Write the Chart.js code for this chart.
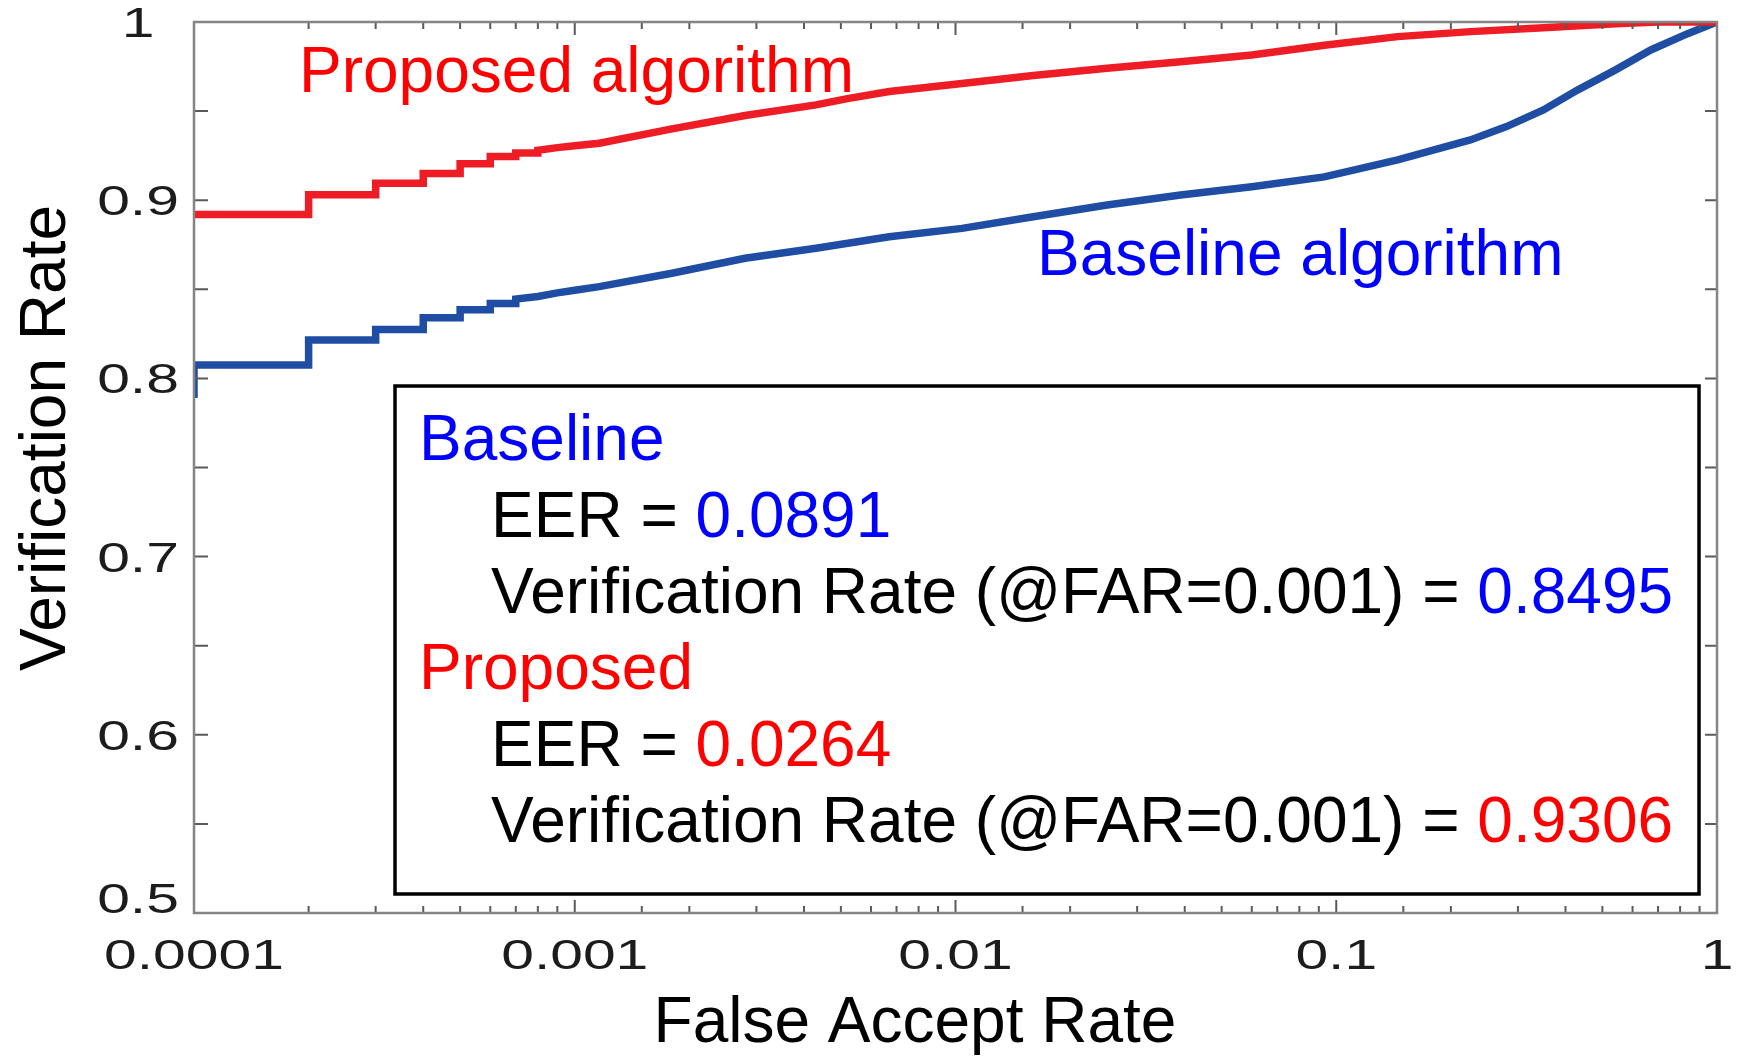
<!DOCTYPE html>
<html>
<head>
<meta charset="utf-8">
<title>ROC - Verification Rate vs False Accept Rate</title>
<script src="https://cdn.jsdelivr.net/npm/chart.js@4/dist/chart.umd.min.js"></script>
<style>
    html, body { margin: 0; padding: 0; background: #ffffff; }
    #wrap { width: 1738px; height: 1056px; }
</style>
</head>
<body>
<div id="wrap"><canvas id="rocChart" width="1738" height="1056"></canvas></div>
<script>
// ROC curve samples (FAR on a log axis, verification rate on a linear one)
const proposedFar = [1e-4, 2e-4, 2e-4, 3e-4, 3e-4, 4e-4, 4e-4, 5e-4, 5e-4, 6e-4, 6e-4, 7e-4, 7e-4, 8e-4, 8e-4, 9e-4,
    1e-3, 1.16e-3, 1.8e-3, 2.8e-3, 4.3e-3, 5.2e-3, 6.7e-3, 0.0104, 0.016, 0.025, 0.039, 0.06, 0.093, 0.145, 0.225,
    0.35, 0.54, 0.7, 1];
const proposedRate = [0.892, 0.892, 0.903, 0.903, 0.9095, 0.9095, 0.915, 0.915, 0.9205, 0.9205, 0.9245, 0.9245, 0.9265, 0.9265, 0.928, 0.9295,
    0.9306, 0.932, 0.940, 0.9475, 0.9535, 0.957, 0.961, 0.9655, 0.970, 0.974, 0.9777, 0.9815, 0.987, 0.9918, 0.9946,
    0.9968, 0.999, 1, 1];

const baselineFar = [1e-4, 1e-4, 2e-4, 2e-4, 3e-4, 3e-4, 4e-4, 4e-4, 5e-4, 5e-4, 6e-4, 6e-4, 7e-4, 7e-4, 8e-4, 9e-4,
    1e-3, 1.16e-3, 1.8e-3, 2.8e-3, 4.3e-3, 6.7e-3, 0.0104, 0.016, 0.025, 0.039, 0.06, 0.093, 0.145, 0.225,
    0.28, 0.35, 0.43, 0.54, 0.67, 0.84, 1];
const baselineRate = [0.789, 0.8075, 0.8075, 0.8215, 0.8215, 0.8275, 0.8275, 0.834, 0.834, 0.8385, 0.8385, 0.842, 0.842, 0.8445, 0.846, 0.848,
    0.8495, 0.8515, 0.859, 0.8674, 0.873, 0.8795, 0.8842, 0.8907, 0.8973, 0.9029, 0.9076, 0.9131, 0.9226, 0.9338,
    0.9413, 0.9506, 0.9618, 0.973, 0.9843, 0.9936, 1];

// Axis tick labels
const xTickValues = [1e-4, 1e-3, 1e-2, 1e-1, 1];
const xTickLabels = ['0.0001', '0.001', '0.01', '0.1', '1'];
const yTickValues = [0.5, 0.6, 0.7, 0.8, 0.9, 1];
const yTickLabels = ['0.5', '0.6', '0.7', '0.8', '0.9', '1'];

// Summary numbers shown in the boxed note
const methodNames = ['Baseline', 'Proposed'];
const eerValues = ['0.0891', '0.0264'];
const vrAtFar001 = ['0.8495', '0.9306'];

const RED = '#ff0000';
const BLUE = '#0000ff';
const TEXT_FONT = '"Liberation Sans", Arial, Helvetica, sans-serif';

function toPoints(xs, ys) {
    return xs.map((x, i) => ({ x: x, y: ys[i] }));
}

// tick labels come out wide in this figure, so draw them stretched
function wideText(ctx, text, x, y) {
    ctx.save();
    ctx.translate(x, y);
    ctx.scale(1.4, 1);
    ctx.textAlign = 'center';
    ctx.fillText(text, 0, 0);
    ctx.restore();
}

// Frame, inward ticks, tick labels, axis titles and the text annotations
const rocDecor = {
    id: 'rocDecor',
    afterDatasetsDraw(chart) {
        const ctx = chart.ctx;
        const area = chart.chartArea;
        const xs = chart.scales.x;
        const ys = chart.scales.y;

        ctx.save();

        // tick marks
        ctx.strokeStyle = '#5a5a5a';
        ctx.lineWidth = 2;
        ctx.beginPath();
        xs.ticks.forEach(t => {
            const px = xs.getPixelForValue(t.value);
            const m = t.value / Math.pow(10, Math.round(Math.log10(t.value)));
            const len = Math.abs(m - 1) < 1e-6 ? 13 : 7;
            ctx.moveTo(px, area.bottom);
            ctx.lineTo(px, area.bottom - len);
            ctx.moveTo(px, area.top);
            ctx.lineTo(px, area.top + len);
        });
        ys.ticks.forEach(t => {
            const py = ys.getPixelForValue(t.value);
            ctx.moveTo(area.left, py);
            ctx.lineTo(area.left + 14, py);
            ctx.moveTo(area.right, py);
            ctx.lineTo(area.right - 12, py);
        });
        ctx.stroke();

        // plot frame
        ctx.strokeStyle = '#858585';
        ctx.lineWidth = 2.5;
        ctx.strokeRect(area.left, area.top, area.right - area.left, area.bottom - area.top);

        // tick labels (the lowest y label sits on the x axis line)
        ctx.fillStyle = '#1c1c1c';
        ctx.font = '42px ' + TEXT_FONT;
        ctx.textBaseline = 'alphabetic';
        xTickValues.forEach((v, i) => {
            wideText(ctx, xTickLabels[i], xs.getPixelForValue(v), 969);
        });
        yTickValues.forEach((v, i) => {
            const baseY = Math.min(ys.getPixelForValue(v) + 15, area.bottom);
            wideText(ctx, yTickLabels[i], 138, baseY);
        });

        // axis titles
        ctx.fillStyle = '#000000';
        ctx.font = '64px ' + TEXT_FONT;
        ctx.textAlign = 'center';
        ctx.fillText('False Accept Rate', 915, 1042);
        ctx.save();
        ctx.translate(65, 438);
        ctx.rotate(-Math.PI / 2);
        ctx.fillText('Verification Rate', 0, 0);
        ctx.restore();

        // curve names
        ctx.textAlign = 'left';
        ctx.fillStyle = RED;
        ctx.fillText('Proposed algorithm', 299, 92);
        ctx.fillStyle = BLUE;
        ctx.fillText('Baseline algorithm', 1037, 275);

        // boxed summary
        ctx.fillStyle = '#ffffff';
        ctx.fillRect(395, 386, 1304, 508);
        ctx.strokeStyle = '#000000';
        ctx.lineWidth = 3.5;
        ctx.strokeRect(395, 386, 1304, 508);

        const colors = [BLUE, RED];
        let base = 460;
        methodNames.forEach((name, i) => {
            ctx.fillStyle = colors[i];
            ctx.fillText(name, 419, base);

            const eerLead = 'EER = ';
            ctx.fillStyle = '#000000';
            ctx.fillText(eerLead, 491, base + 77);
            ctx.fillStyle = colors[i];
            ctx.fillText(eerValues[i], 491 + ctx.measureText(eerLead).width, base + 77);

            const vrLead = 'Verification Rate (@FAR=0.001) = ';
            ctx.fillStyle = '#000000';
            ctx.fillText(vrLead, 491, base + 153);
            ctx.fillStyle = colors[i];
            ctx.fillText(vrAtFar001[i], 491 + ctx.measureText(vrLead).width, base + 153);

            base += 229;
        });

        ctx.restore();
    }
};

document.addEventListener('DOMContentLoaded', () => {
    const ctx = document.getElementById('rocChart').getContext('2d');

    new Chart(ctx, {
        type: 'line',
        data: {
            datasets: [
                {
                    label: 'Proposed algorithm',
                    data: toPoints(proposedFar, proposedRate),
                    borderColor: '#ee1c24',
                    borderWidth: 7.5,
                    pointRadius: 0,
                    tension: 0,
                    borderJoinStyle: 'miter',
                    borderCapStyle: 'butt',
                    fill: false
                },
                {
                    label: 'Baseline algorithm',
                    data: toPoints(baselineFar, baselineRate),
                    borderColor: '#1f4da3',
                    borderWidth: 7.5,
                    pointRadius: 0,
                    tension: 0,
                    borderJoinStyle: 'miter',
                    borderCapStyle: 'butt',
                    fill: false
                }
            ]
        },
        options: {
            responsive: false,
            animation: false,
            devicePixelRatio: 1,
            layout: {
                padding: { top: 22, right: 21, left: 0, bottom: 0 }
            },
            plugins: {
                legend: { display: false },
                tooltip: { enabled: false }
            },
            scales: {
                x: {
                    type: 'logarithmic',
                    min: 1e-4,
                    max: 1,
                    grid: { display: false },
                    border: { display: false },
                    ticks: { display: false },
                    afterFit: scale => { scale.height = 143; }
                },
                y: {
                    type: 'linear',
                    min: 0.5,
                    max: 1,
                    grid: { display: false },
                    border: { display: false },
                    ticks: { display: false, stepSize: 0.05 },
                    afterFit: scale => { scale.width = 194; }
                }
            }
        },
        plugins: [rocDecor]
    });
});
</script>
</body>
</html>
